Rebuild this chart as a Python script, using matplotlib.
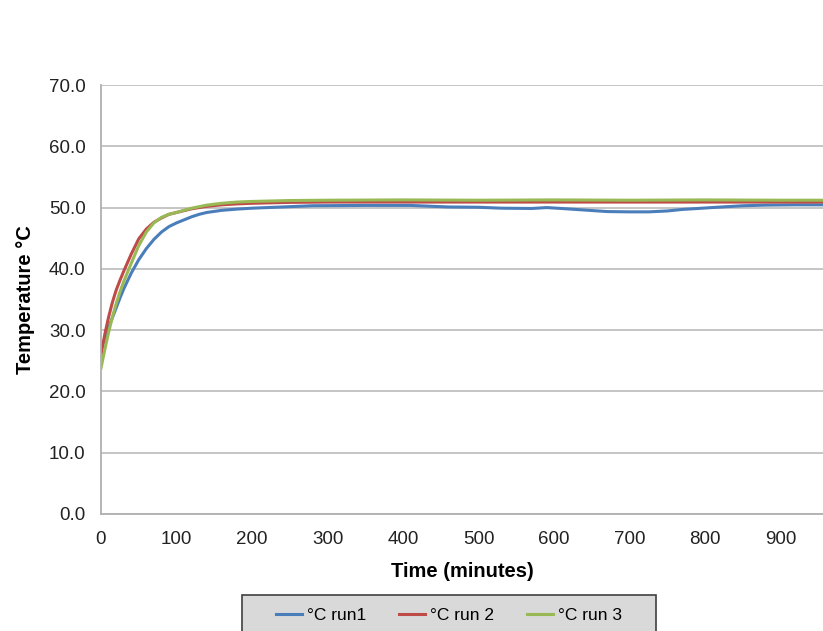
import numpy as np
import matplotlib.pyplot as plt
from matplotlib.patches import Rectangle

plt.rcParams['font.family'] = ['Liberation Sans', 'DejaVu Sans']

# temperature logs, minutes vs degrees C
t_run1 = [0, 5, 10, 15, 20, 25, 30, 40, 50, 60, 70, 80, 90, 100, 110, 120, 130, 140, 160,
          180, 200, 240, 280, 350, 410, 460, 500, 530, 570, 590, 610, 640, 670, 700, 725,
          750, 770, 790, 815, 850, 880, 920, 960]
run1 = [26.8, 28.6, 30.4, 32.0, 33.6, 35.2, 36.7, 39.3, 41.5, 43.3, 44.8, 46.0, 46.9, 47.5,
        48.0, 48.5, 48.9, 49.2, 49.55, 49.75, 49.9, 50.1, 50.3, 50.35, 50.35, 50.1, 50.05,
        49.9, 49.85, 50.0, 49.85, 49.6, 49.35, 49.3, 49.3, 49.45, 49.7, 49.85, 50.05, 50.3,
        50.4, 50.45, 50.45]

t_run2 = [0, 5, 10, 15, 20, 25, 30, 40, 50, 60, 70, 80, 90, 100, 120, 140, 160, 180, 200,
          250, 300, 400, 500, 600, 700, 800, 900, 960]
run2 = [25.9, 29.3, 32.1, 34.5, 36.5, 38.1, 39.6, 42.4, 44.9, 46.5, 47.6, 48.3, 48.9, 49.2,
        49.8, 50.2, 50.45, 50.6, 50.7, 50.85, 50.9, 50.9, 50.9, 50.9, 50.9, 50.9, 50.9, 50.9]

t_run3 = [0, 5, 10, 15, 20, 25, 30, 40, 50, 60, 70, 80, 90, 100, 120, 140, 160, 180, 200,
          250, 300, 400, 500, 600, 700, 800, 900, 960]
run3 = [23.8, 26.8, 29.6, 32.1, 34.3, 36.2, 37.9, 40.9, 43.8, 46.0, 47.5, 48.4, 48.9, 49.2,
        49.9, 50.4, 50.7, 50.9, 51.0, 51.15, 51.2, 51.25, 51.2, 51.25, 51.2, 51.25, 51.2,
        51.2]

W, H = 823, 631
fig = plt.figure(figsize=(W / 100, H / 100), dpi=100)
ax = fig.add_axes([101 / W, 1 - 514 / H, 1.0 - 101 / W + 0.0001, (514 - 85) / H])

ax.plot(t_run1, run1, color='#4a7ebb', linewidth=2.2, label='°C run1')
ax.plot(t_run2, run2, color='#be4b48', linewidth=2.2, label='°C run 2')
ax.plot(t_run3, run3, color='#98b954', linewidth=2.2, label='°C run 3')

ax.set_xlim(0, 956)
ax.set_ylim(0, 70)
ax.set_yticks(np.arange(0, 71, 10))
ax.set_yticklabels([f'{v:.1f}' for v in np.arange(0, 71, 10)])
ax.set_xticks(np.arange(0, 901, 100))
ax.tick_params(length=0, labelsize=13.5, colors='#222222')
ax.tick_params(axis='y', pad=11)
ax.tick_params(axis='x', pad=12)
ax.grid(axis='y', color='#c0c0c0', linewidth=1.3)
ax.set_axisbelow(True)
for s in ['top', 'right']:
    ax.spines[s].set_visible(False)
for s in ['left', 'bottom']:
    ax.spines[s].set_color('#b0b0b0')
    ax.spines[s].set_linewidth(1.3)

ax.set_xlabel('Time (minutes)', fontsize=14.5, fontweight='bold', labelpad=10)
ax.set_ylabel('Temperature °C', fontsize=14.5, fontweight='bold', labelpad=10)

# legend box sits below the axes and runs off the bottom edge
fig.patches.append(Rectangle((242 / W, 1 - 645 / H), (656 - 242) / W, 50 / H,
                             transform=fig.transFigure, facecolor='#d9d9d9',
                             edgecolor='#404040', linewidth=1.2))
fig.legend(loc='center', bbox_to_anchor=(449 / W, 1 - 615 / H), ncol=3, frameon=False,
           fontsize=12.5, handlelength=1.5, handletextpad=0.3, columnspacing=1.9)

fig.savefig('out.png', dpi=100)
